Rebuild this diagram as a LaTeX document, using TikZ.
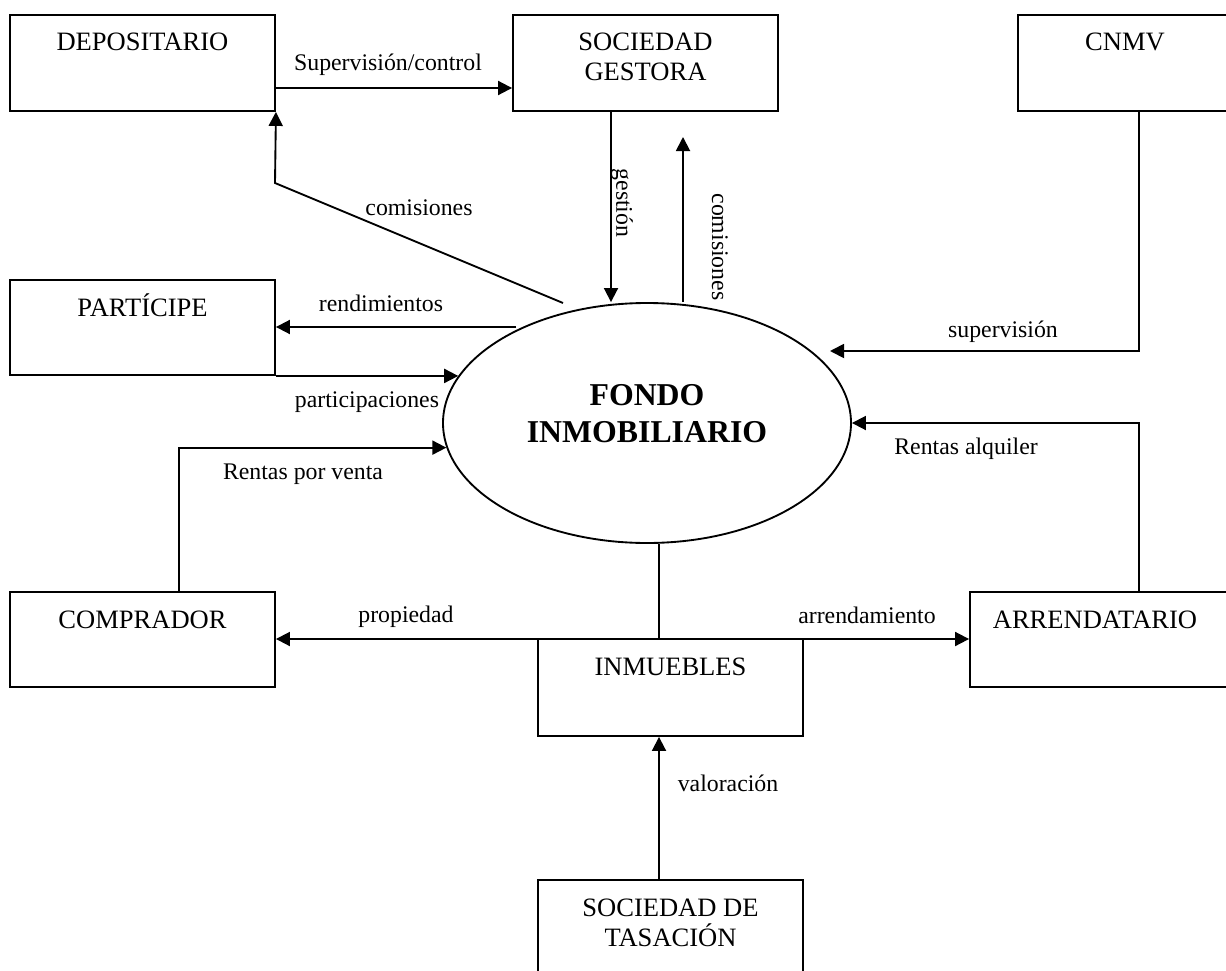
\documentclass[tikz,border=0pt]{standalone}
\usepackage{fontspec}
\setmainfont{Liberation Serif}
\usetikzlibrary{arrows.meta,shapes.geometric,calc}
\newcommand{\tstrut}{\rule{0pt}{19pt}}
\begin{document}
\begin{tikzpicture}[x=0.75pt,y=-0.75pt,
  line width=1.4pt,
  flow/.style={-{Triangle[length=10.5pt,width=10.5pt]}},
  boxnode/.style={draw, rectangle, inner sep=0, minimum width=198.75pt, minimum height=72pt},
  boxtext/.style={anchor=north, yshift=-8pt, inner sep=0, align=center, font=\fontsize{19.9pt}{22.5pt}\selectfont},
  lbl/.style={anchor=base, inner sep=0, font=\fontsize{17.85pt}{20pt}\selectfont},
]
\path[use as bounding box] (0,0) rectangle (1226,970);
\clip (0,0) rectangle (1226,970);
\fill[white] (0,0) rectangle (1226,970);

% boxes
\node[boxnode, label={[boxtext]north:{\tstrut DEPOSITARIO}}] (dep) at (142.5,63) {};
\node[boxnode, label={[boxtext]north:{\tstrut SOCIEDAD\\GESTORA}}] (soc) at (645.5,63) {};
\node[boxnode, minimum width=160.5pt, label={[boxtext]north:{\tstrut CNMV}}] (cnmv) at (1125,63) {};
\node[boxnode, minimum height=71.25pt, label={[boxtext]north:{\tstrut PARTÍCIPE}}] (part) at (142.5,327.5) {};
\node[boxnode, minimum height=71.25pt, label={[boxtext]north:{\tstrut COMPRADOR}}] (comp) at (142.5,639.5) {};
\node[boxnode, minimum width=202.5pt, minimum height=71.25pt, label={[boxtext, xshift=-7.5pt]north:{\tstrut ARRENDATARIO}}] (arren) at (1105,639.5) {};
\node[boxnode, minimum height=72.75pt, label={[boxtext]north:{\tstrut INMUEBLES}}] (inm) at (670.5,687.5) {};
\node[boxnode, minimum height=90pt, label={[boxtext]north:{\tstrut SOCIEDAD DE\\TASACIÓN}}] (tas) at (670.5,940) {};

% central ellipse
\node[draw, ellipse, minimum width=306pt, minimum height=180pt, inner sep=0, align=center,
      font=\bfseries\fontsize{23.85pt}{27.75pt}\selectfont] (fondo) at (647,423)
      {FONDO\\INMOBILIARIO\rule[-13.9pt]{0pt}{13.9pt}};

% helper coordinates
\coordinate (k1) at (275,183);
\coordinate (c1) at (563,303);
\coordinate (c2) at (683,137);
\coordinate (c3) at (516,327);
\coordinate (c4) at (830,351);
\coordinate (j) at (659,639);
\coordinate (g1) at ([xshift=-25.875pt]soc.south);
\coordinate (v1) at ([xshift=27.375pt]comp.north);
\coordinate (s1) at ([xshift=10.5pt]cnmv.south);
\coordinate (r1) at ([xshift=25.5pt]arren.north);
\coordinate (t1) at ([xshift=-8.625pt]tas.north);

% connectors
\draw[flow] ([yshift=-18.75pt]dep.east) -- ([yshift=-18.75pt]soc.west);
\draw[flow] (c1) -- (k1) -- (dep.south east);
\draw[flow] (g1) -- (g1 |- fondo.north);
\draw[flow] (fondo.north -| c2) -- (c2);
\draw[flow] (c3) -- (c3 -| part.east);
\draw[flow] (part.south east) -- (part.south east -| fondo.166);
\draw[flow] (v1) |- (fondo.187);
\draw[flow] (s1) |- (c4);
\draw[flow] (r1) |- (fondo.east);
\draw (fondo.south -| j) -- (j);
\draw[flow] (j) -- (j -| comp.east);
\draw[flow] (j) -- (j -| arren.west);
\draw[flow] (t1) -- (t1 |- inm.south);

% labels
\node[lbl] (l1) at (388,71) {Supervisión/control};
\node[lbl] (l2) at (419,215) {comisiones};
\node[lbl, rotate=-90, anchor=center] (l3) at (622,203) {gestión};
\node[lbl, rotate=-90, anchor=center] (l4) at (720,247) {comisiones};
\node[lbl] (l5) at (381,311) {rendimientos};
\node[lbl] (l6) at (367,407) {participaciones};
\node[lbl] (l7) at (303,479) {Rentas por venta};
\node[lbl] (l8) at (1003,337) {supervisión};
\node[lbl] (l9) at (966,454) {Rentas alquiler};
\node[lbl] (l10) at (406,622) {propiedad};
\node[lbl] (l11) at (867,623) {arrendamiento};
\node[lbl] (l12) at (728,791) {valoración};
\end{tikzpicture}
\end{document}
